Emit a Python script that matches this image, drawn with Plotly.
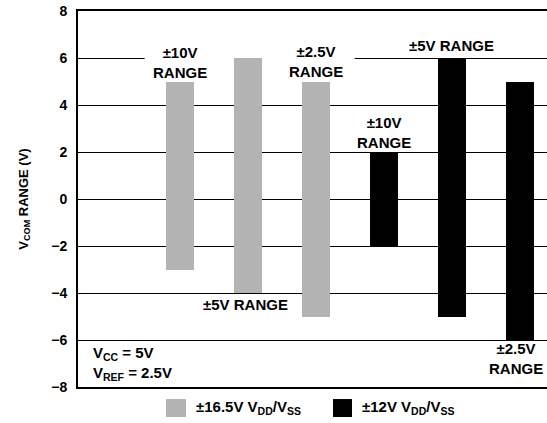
import plotly.graph_objects as go

# ---- data ----
range_labels = ["±10V", "±5V", "±2.5V"]
gray_low = [-3, -4, -5]      # ±16.5V VDD/VSS
gray_high = [5, 6, 5]
black_low = [-2, -5, -6]     # ±12V VDD/VSS
black_high = [2, 6, 5]
series_names = ["±16.5V V<sub>DD</sub>/V<sub>SS</sub>", "±12V V<sub>DD</sub>/V<sub>SS</sub>"]
series_colors = ["#b3b3b3", "#000000"]
y_ticks = [-8, -6, -4, -2, 0, 2, 4, 6, 8]
y_tick_labels = ["−8", "−6", "−4", "−2", "0", "2", "4", "6", "8"]

FONT = "Liberation Sans, Arial, sans-serif"

gray_x = list(range(len(range_labels)))
black_x = [len(range_labels) + i for i in range(len(range_labels))]

fig = go.Figure()
fig.add_trace(go.Bar(
    x=gray_x, y=[h - l for h, l in zip(gray_high, gray_low)], base=gray_low,
    width=0.41, marker=dict(color=series_colors[0], line=dict(width=0)),
    name=series_names[0], showlegend=False, hoverinfo="skip"))
fig.add_trace(go.Bar(
    x=black_x, y=[h - l for h, l in zip(black_high, black_low)], base=black_low,
    width=0.41, marker=dict(color=series_colors[1], line=dict(width=0)),
    name=series_names[1], showlegend=False, hoverinfo="skip"))

def ann(x, y, text, xanchor="center", align="center", **kw):
    fig.add_annotation(x=x, y=y, xref="x", yref="y", text=text, showarrow=False,
                       xanchor=xanchor, align=align,
                       font=dict(family=FONT, size=15, color="black", weight="bold"), **kw)

# range labels
ann(gray_x[0], 5.83, f"{range_labels[0]}<br>RANGE")
ann(gray_x[1] - 0.03, -4.5, f"{range_labels[1]} RANGE")
ann(gray_x[2], 5.85, f"{range_labels[2]}<br>RANGE")
ann(black_x[0], 2.85, f"{range_labels[0]}<br>RANGE")
ann(black_x[1], 6.55, f"{range_labels[1]} RANGE")
ann(black_x[2] - 0.05, -6.78, f"{range_labels[2]}<br>RANGE")
ann(-1.31, -6.98, "V<sub>CC</sub> = 5V<br>V<sub>REF</sub> = 2.5V", xanchor="left", align="left")

# white mask behind the top-left labels on the 6 V gridline
fig.add_shape(type="rect", xref="x", yref="y", x0=-0.52, x1=2.57, y0=5.8, y1=6.2,
              fillcolor="white", line=dict(width=0), layer="between")

# manual legend
leg = [(0.1876, 0.2303, 0.2473), (0.5437, 0.5842, 0.6013)]
for (x0, x1, xt), name, col in zip(leg, series_names, series_colors):
    fig.add_shape(type="rect", xref="paper", yref="paper", x0=x0, x1=x1,
                  y0=-0.0798, y1=-0.0320, fillcolor=col, line=dict(width=0))
    fig.add_annotation(x=xt, y=-0.055, xref="paper", yref="paper", text=name,
                       showarrow=False, xanchor="left", yanchor="middle",
                       font=dict(family=FONT, size=15, color="black", weight="bold"))

fig.update_layout(
    width=547, height=423,
    margin=dict(l=78, r=0, t=11, b=36),
    plot_bgcolor="white", paper_bgcolor="white",
    bargap=0, showlegend=False,
    xaxis=dict(range=[-1.5, 5.4], showgrid=False, zeroline=False, showticklabels=False,
               ticks="", showline=True, mirror=True, linecolor="black", linewidth=1.6),
    yaxis=dict(range=[-8, 8], tickvals=y_ticks, ticktext=y_tick_labels,
               showgrid=True, gridcolor="black", gridwidth=1.3, zeroline=False,
               showline=True, linecolor="black", linewidth=2, ticks="",
               ticklabelstandoff=6,
               tickfont=dict(family=FONT, size=14, color="black", weight="bold"),
               title=dict(text="V<sub>COM</sub> RANGE (V)", standoff=20,
                          font=dict(family=FONT, size=13, color="black", weight="bold"))),
)

# remove the default 8px body margin so the figure fills the window exactly
fig.write_html("out.html", config={"displayModeBar": False},
               post_script="document.body.style.margin='0';document.body.style.overflow='hidden';")
